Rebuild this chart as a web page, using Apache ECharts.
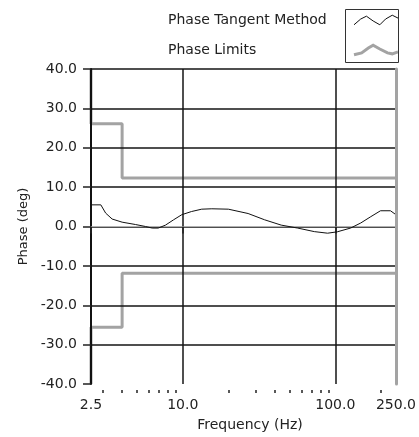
<!DOCTYPE html>
<html>
<head>
<meta charset="utf-8">
<script src="https://cdn.jsdelivr.net/npm/echarts@6/dist/echarts.min.js"></script>
<style>
html,body{margin:0;padding:0;background:#fff;}
#chart{width:419px;height:437px;}
</style>
</head>
<body>
<div id="chart"></div>
<script>
// ---- data ----
const tangentFreq  = [2.5, 2.9, 3.12, 3.44, 4.0, 4.9, 5.7, 6.3, 6.9, 7.7, 8.7, 9.85, 11.4, 13.3, 15.5, 19.9, 26.8, 34.4, 44.2, 56.7, 72.9, 89, 103, 126, 147, 171, 198, 230, 250];
const tangentPhase = [5.5, 5.5, 3.4, 1.9, 1.1, 0.5, 0.0, -0.4, -0.4, 0.35, 1.7, 3.0, 3.8, 4.4, 4.5, 4.4, 3.3, 1.7, 0.35, -0.4, -1.3, -1.7, -1.35, -0.4, 0.9, 2.5, 4.0, 4.0, 3.0];
const upperLimitFreq  = [2.5, 2.5, 4.0, 4.0, 250];
const upperLimitPhase = [40, 26.1, 26.1, 12.3, 12.3];
const lowerLimitFreq  = [2.5, 2.5, 4.0, 4.0, 250];
const lowerLimitPhase = [-40, -25.6, -25.6, -11.9, -11.9];
const xLabelValues = [2.5, 10, 100, 250];
const xMinorTicks  = [3, 4, 5, 6, 7, 8, 9, 20, 30, 40, 50, 60, 70, 80, 90, 200];
const yTicks = [-40, -30, -20, -10, 0, 10, 20, 30, 40];
const seriesNames = ['Phase Tangent Method', 'Phase Limits'];

const zip = (a, b) => a.map((v, i) => [v, b[i]]);
const FONT = 'DejaVu Sans';
const GRID = '#151515';
const LIMIT = '#a3a3a3';

const chart = echarts.init(document.getElementById('chart'), null, {renderer: 'canvas'});
const logX = {type: 'log', logBase: 10, min: xLabelValues[0], max: xLabelValues[xLabelValues.length - 1], gridIndex: 0};

chart.setOption({
  animation: false,
  backgroundColor: '#fff',
  grid: {left: 91, right: 21, top: 69, bottom: 53, containLabel: false},
  legend: {
    orient: 'vertical', left: 163, top: 8, align: 'right',
    itemWidth: 44, itemHeight: 18, itemGap: 16,
    formatter: name => '{t|' + name + '}',
    textStyle: {fontFamily: FONT, fontSize: 14, color: '#222',
                rich: {t: {width: 181, align: 'left', fontFamily: FONT, fontSize: 14, color: '#222'}}},
    data: [
      {name: seriesNames[0], icon: 'path://M0,12 L7,6 L13,3 L20,8 L27,12 L33,6 L40,2 L46,5',
       itemStyle: {color: 'transparent', borderColor: '#111', borderWidth: 1}},
      {name: seriesNames[1], icon: 'path://M0,14 L8,12 L15,7 L20,4 L27,8 L35,12 L40,13 L46,11',
       itemStyle: {color: 'transparent', borderColor: LIMIT, borderWidth: 3}}
    ]
  },
  graphic: [{
    type: 'rect', left: 345, top: 9, z: 10,
    shape: {width: 53, height: 53},
    style: {fill: 'transparent', stroke: '#333', lineWidth: 1}
  }],
  xAxis: [
    Object.assign({}, logX, {
      position: 'bottom', z: 3,
      name: 'Frequency (Hz)', nameLocation: 'middle', nameGap: 34,
      nameTextStyle: {fontFamily: FONT, fontSize: 14, color: '#222', padding: [0, 0, 0, 13]},
      axisLine: {show: true, lineStyle: {color: '#b0b0b0', width: 1}},
      axisTick: {show: false, customValues: xLabelValues},
      axisLabel: {customValues: xLabelValues, margin: 14, fontFamily: FONT, fontSize: 14, color: '#222',
                  formatter: v => Number(v).toFixed(1)},
      splitLine: {show: true, showMinLine: false, showMaxLine: false, lineStyle: {color: GRID, width: 1.5}},
      minorTick: {show: false}, minorSplitLine: {show: false}
    }),
    Object.assign({}, logX, {
      position: 'bottom', offset: 4, z: 3,
      axisLine: {show: false},
      axisTick: {show: true, customValues: xLabelValues, length: 7, lineStyle: {color: '#222', width: 1.5}},
      axisLabel: {show: false}, splitLine: {show: false}
    }),
    Object.assign({}, logX, {
      position: 'bottom', offset: 6, z: 3,
      axisLine: {show: false},
      axisTick: {show: true, customValues: xMinorTicks, length: 3, lineStyle: {color: '#222', width: 1.5}},
      axisLabel: {show: false}, splitLine: {show: false}
    })
  ],
  yAxis: [
    {
      type: 'value', min: yTicks[0], max: yTicks[yTicks.length - 1], interval: 10, z: 3,
      position: 'left',
      name: 'Phase (deg)', nameLocation: 'middle', nameGap: 46, nameRotate: 90,
      nameTextStyle: {fontFamily: FONT, fontSize: 13, color: '#222'},
      axisLine: {show: true, lineStyle: {color: '#111', width: 2}},
      axisTick: {show: true, length: 8, lineStyle: {color: '#222', width: 1.5}},
      axisLabel: {margin: 14, fontFamily: FONT, fontSize: 14, color: '#222', formatter: v => v.toFixed(1)},
      splitLine: {show: true, showMinLine: false, showMaxLine: true, lineStyle: {color: GRID, width: 1.5}}
    },
    {
      type: 'value', min: yTicks[0], max: yTicks[yTicks.length - 1], interval: 10, z: 5,
      position: 'right',
      axisLine: {show: true, onZero: false, lineStyle: {color: LIMIT, width: 3}},
      axisTick: {show: false}, axisLabel: {show: false}, splitLine: {show: false}
    }
  ],
  series: [
    {
      name: seriesNames[1], type: 'line', xAxisIndex: 0, yAxisIndex: 0, z: 1,
      data: zip(upperLimitFreq, upperLimitPhase), showSymbol: false, symbol: 'none',
      lineStyle: {color: LIMIT, width: 3}, itemStyle: {color: LIMIT}
    },
    {
      name: seriesNames[1], type: 'line', xAxisIndex: 0, yAxisIndex: 0, z: 1,
      data: zip(lowerLimitFreq, lowerLimitPhase), showSymbol: false, symbol: 'none',
      lineStyle: {color: LIMIT, width: 3}, itemStyle: {color: LIMIT}
    },
    {
      name: seriesNames[0], type: 'line', xAxisIndex: 0, yAxisIndex: 0, z: 4,
      data: zip(tangentFreq, tangentPhase), showSymbol: false, symbol: 'none',
      lineStyle: {color: '#111', width: 1}, itemStyle: {color: '#111'}
    }
  ]
});
</script>
</body>
</html>
